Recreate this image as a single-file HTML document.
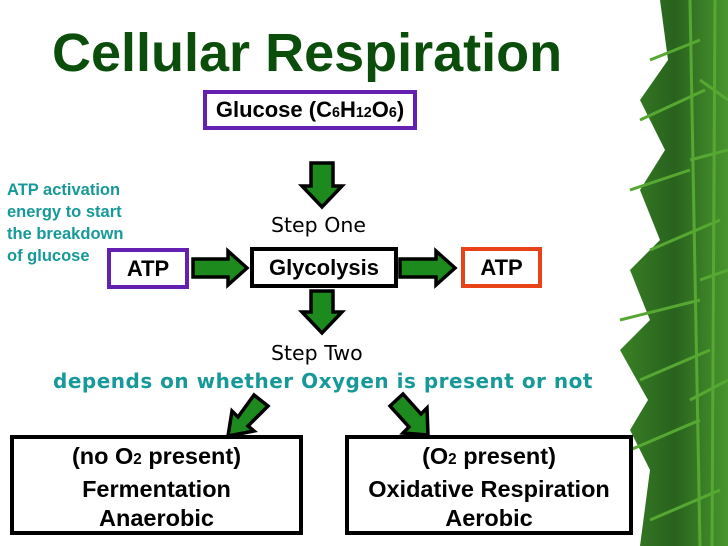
<!DOCTYPE html>
<html><head><style>
body{margin:0;width:728px;height:546px;background:#fff;position:relative;overflow:hidden;font-family:"Liberation Sans",sans-serif}
.a{position:absolute}
.box{position:absolute;box-sizing:border-box;border:4px solid #000;background:#fff;font-weight:bold;color:#000;text-align:center;white-space:nowrap}
sub{font-size:65%;vertical-align:0}
.t{position:absolute;font-family:"DejaVu Sans",sans-serif;white-space:nowrap}
</style></head><body>
<svg class="a" style="left:0;top:0" width="728" height="546">
<defs><linearGradient id="g" x1="0" x2="1"><stop offset="0" stop-color="#2f7a1a"/><stop offset="0.5" stop-color="#1d5a12"/><stop offset="1" stop-color="#3f8f22"/></linearGradient></defs>
<g fill="url(#g)" opacity="0.95">
<path d="M660 0 L728 0 L728 546 L640 546 L650 470 L630 430 L648 400 L620 350 L650 320 L630 270 L660 240 L640 190 L665 150 L640 100 L668 60 Z"/>
</g>
<g stroke="#56a832" stroke-width="3" fill="none">
<path d="M690 0 L700 546"/><path d="M715 0 L712 546"/>
<path d="M650 60 L700 40 M640 120 L705 90 M630 190 L690 170 M650 250 L720 220 M620 320 L700 300 M640 380 L710 350 M630 450 L700 420 M650 520 L720 490"/>
<path d="M700 80 L728 100 M690 160 L728 150 M700 280 L728 270 M690 400 L728 380"/>
</g>
<g fill="#1c8a1c" stroke="#000" stroke-width="3.5" stroke-linejoin="miter">
<path d="M311 163 L333 163 L333 186 L342 186 L322 207 L302 186 L311 186 Z"/>
<path d="M311 291 L333 291 L333 312 L342 312 L322 333 L302 312 L311 312 Z"/>
<path d="M193 259 L228 259 L228 251 L247 268 L228 285 L228 277 L193 277 Z"/>
<path d="M400 259 L436 259 L436 251 L455 268 L436 285 L436 277 L400 277 Z"/>
<path d="M254 395 L268 406 L248 426 L254 431 L228 436 L232 411 L238 417 Z"/>
<path d="M390 406 L403 394 L421 414 L427 408 L428 435 L403 433 L409 427 Z"/>
</g>
</svg>
<div class="a" style="left:52px;top:22px;font-size:54px;font-weight:bold;color:#0b4d0b;white-space:nowrap">Cellular Respiration</div>
<div class="box" style="left:203px;top:90px;width:214px;height:40px;border-color:#6420b0;font-size:22px;line-height:32px">Glucose (C<sub>6</sub>H<sub>12</sub>O<sub>6</sub>)</div>
<div class="t" style="left:271px;top:213px;font-size:20.5px">Step One</div>
<div class="a" style="left:7px;top:179px;font-size:16.5px;font-weight:bold;color:#17999a;line-height:22px">ATP activation<br>energy to start<br>the breakdown<br>of glucose</div>
<div class="box" style="left:107px;top:248px;width:82px;height:41px;border-color:#6420b0;font-size:22px;line-height:33px">ATP</div>
<div class="box" style="left:250px;top:247px;width:148px;height:41px;font-size:22px;line-height:33px">Glycolysis</div>
<div class="box" style="left:461px;top:247px;width:81px;height:41px;border-color:#e84318;font-size:22px;line-height:33px">ATP</div>
<div class="t" style="left:271px;top:341px;font-size:20.5px">Step Two</div>
<div class="t" style="left:53px;top:369px;font-size:20px;font-weight:bold;color:#17999a;letter-spacing:0.5px">depends on whether Oxygen is present or not</div>
<div class="box" style="left:10px;top:435px;width:293px;height:100px;font-size:23.5px;line-height:29.5px;padding-top:3px">(no O<sub>2</sub> present)<br>Fermentation<br>Anaerobic</div>
<div class="box" style="left:345px;top:435px;width:288px;height:100px;font-size:23.5px;line-height:29.5px;padding-top:3px">(O<sub>2</sub> present)<br>Oxidative Respiration<br>Aerobic</div>
</body></html>
